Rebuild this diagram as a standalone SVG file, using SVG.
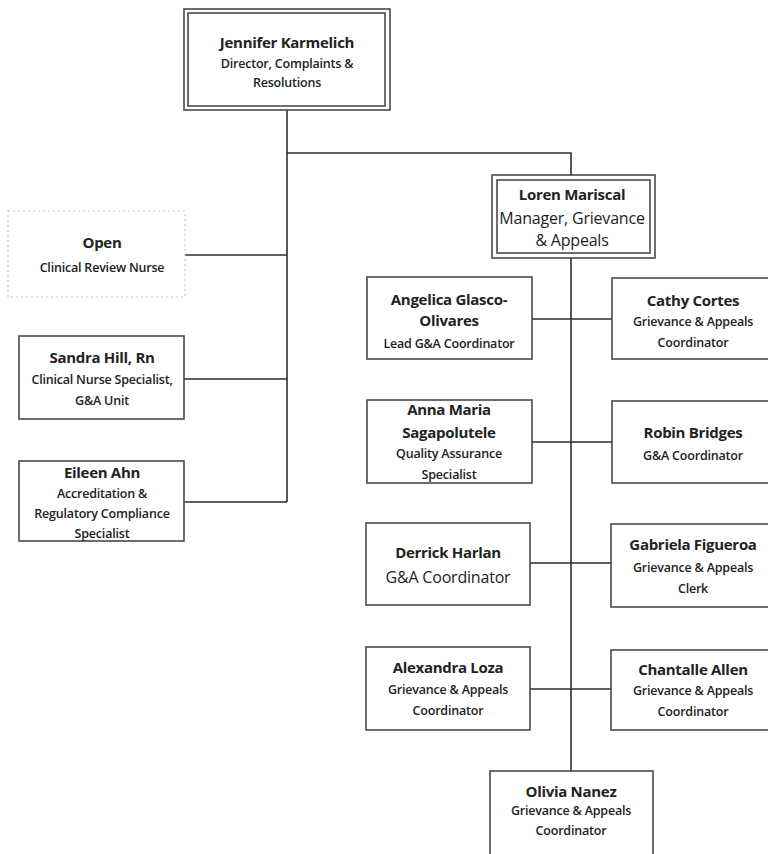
<svg xmlns="http://www.w3.org/2000/svg" width="768" height="854" viewBox="0 0 768 854">
  <style>
    .box { fill: #ffffff; stroke: #4a4a4a; stroke-width: 1.6; }
    .open { fill: #ffffff; stroke: #c8c8c8; stroke-width: 1.2; stroke-dasharray: 2 3; }
    .wire { fill: none; stroke: #2e2e2e; stroke-width: 1.6; }
    text { font-family: "Open Sans", "Liberation Sans", sans-serif; fill: #222222; text-anchor: middle; }
    .nm { font-size: 15px; font-weight: 700; letter-spacing: -0.3px; }
    .tt { font-size: 12.5px; font-weight: 600; letter-spacing: -0.2px; }
    .lg { font-size: 16px; font-weight: 400; letter-spacing: -0.2px; }
  </style>

  <g id="connectors">
    <path class="wire" d="M287 110 V502 M287 153 H571 V175 M571 258 V771"/>
    <path class="wire" d="M185 255 H287 M184 379 H287 M184 502 H287"/>
    <path class="wire" d="M532 319 H612 M532 442 H612 M530 563 H611 M530 689 H611"/>
  </g>

  <g id="jennifer">
    <rect class="box" x="184" y="9" width="206" height="101"/>
    <rect class="box" x="188" y="13" width="197" height="93"/>
    <text class="nm" x="287" y="48">Jennifer Karmelich</text>
    <text class="tt" x="287" y="67.5">Director, Complaints &amp;</text>
    <text class="tt" x="287" y="86.5">Resolutions</text>
  </g>

  <g id="open">
    <rect class="open" x="8" y="211" width="177" height="86"/>
    <text class="nm" x="102" y="248">Open</text>
    <text class="tt" x="102" y="271.5">Clinical Review Nurse</text>
  </g>

  <g id="sandra">
    <rect class="box" x="19" y="336" width="165" height="83"/>
    <text class="nm" x="102" y="363">Sandra Hill, Rn</text>
    <text class="tt" x="102" y="383.5">Clinical Nurse Specialist,</text>
    <text class="tt" x="102" y="404.5">G&amp;A Unit</text>
  </g>

  <g id="eileen">
    <rect class="box" x="19" y="461" width="165" height="80"/>
    <text class="nm" x="102" y="478">Eileen Ahn</text>
    <text class="tt" x="102" y="497.5">Accreditation &amp;</text>
    <text class="tt" x="102" y="517.5">Regulatory Compliance</text>
    <text class="tt" x="102" y="537.5">Specialist</text>
  </g>

  <g id="loren">
    <rect class="box" x="492" y="175" width="163" height="83"/>
    <rect class="box" x="497" y="180" width="153" height="73"/>
    <text class="nm" x="572" y="200">Loren Mariscal</text>
    <text class="lg" x="572" y="224">Manager, Grievance</text>
    <text class="lg" x="572" y="246">&amp; Appeals</text>
  </g>

  <g id="angelica">
    <rect class="box" x="367" y="277" width="165" height="82"/>
    <text class="nm" x="449" y="305">Angelica Glasco-</text>
    <text class="nm" x="449" y="326">Olivares</text>
    <text class="tt" x="449" y="347.5">Lead G&amp;A Coordinator</text>
  </g>

  <g id="cathy">
    <rect class="box" x="612" y="278" width="170" height="81"/>
    <text class="nm" x="693" y="306">Cathy Cortes</text>
    <text class="tt" x="693" y="325.5">Grievance &amp; Appeals</text>
    <text class="tt" x="693" y="346.5">Coordinator</text>
  </g>

  <g id="anna">
    <rect class="box" x="367" y="400" width="165" height="83"/>
    <text class="nm" x="449" y="415">Anna Maria</text>
    <text class="nm" x="449" y="438">Sagapolutele</text>
    <text class="tt" x="449" y="457.5">Quality Assurance</text>
    <text class="tt" x="449" y="478.5">Specialist</text>
  </g>

  <g id="robin">
    <rect class="box" x="612" y="401" width="170" height="82"/>
    <text class="nm" x="693" y="438">Robin Bridges</text>
    <text class="tt" x="693" y="459.5">G&amp;A Coordinator</text>
  </g>

  <g id="derrick">
    <rect class="box" x="366" y="523" width="164" height="82"/>
    <text class="nm" x="448" y="558">Derrick Harlan</text>
    <text class="lg" x="448" y="583">G&amp;A Coordinator</text>
  </g>

  <g id="gabriela">
    <rect class="box" x="611" y="524" width="170" height="83"/>
    <text class="nm" x="693" y="550">Gabriela Figueroa</text>
    <text class="tt" x="693" y="571.5">Grievance &amp; Appeals</text>
    <text class="tt" x="693" y="592.5">Clerk</text>
  </g>

  <g id="alexandra">
    <rect class="box" x="366" y="647" width="164" height="83"/>
    <text class="nm" x="448" y="673">Alexandra Loza</text>
    <text class="tt" x="448" y="693.5">Grievance &amp; Appeals</text>
    <text class="tt" x="448" y="714.5">Coordinator</text>
  </g>

  <g id="chantalle">
    <rect class="box" x="611" y="650" width="170" height="80"/>
    <text class="nm" x="693" y="675">Chantalle Allen</text>
    <text class="tt" x="693" y="694.5">Grievance &amp; Appeals</text>
    <text class="tt" x="693" y="715.5">Coordinator</text>
  </g>

  <g id="olivia">
    <rect class="box" x="490" y="771" width="163" height="90"/>
    <text class="nm" x="571" y="797">Olivia Nanez</text>
    <text class="tt" x="571" y="814.5">Grievance &amp; Appeals</text>
    <text class="tt" x="571" y="834.5">Coordinator</text>
  </g>
</svg>
